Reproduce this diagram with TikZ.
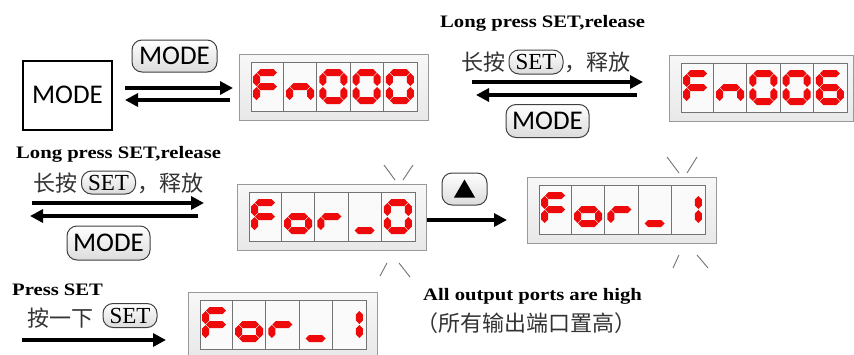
\documentclass[tikz,border=0pt]{standalone}
\usepackage{fontspec}
\setmainfont{Liberation Serif}
\newfontfamily\modefont{Carlito}
\newfontfamily\enbf{Liberation Serif}[FakeStretch=1.18]
\newfontfamily\cjk{Noto Sans CJK SC}
\usetikzlibrary{arrows.meta,calc}
\definecolor{lcdred}{HTML}{EE0A0A}
\tikzset{
 arr/.style={line width=3.4pt,-{Triangle[length=13pt,width=13pt]}},
 pill/.style={draw=black!75,line width=1pt,rounded corners=10pt,top color=white,bottom color=black!14,inner sep=0pt},
 modepill/.style={pill,minimum width=85pt,minimum height=32pt,font=\modefont\fontsize{27}{27}\selectfont},
 setpill/.style={pill,minimum width=54pt,minimum height=24pt,font=\fontsize{23}{23}\selectfont},
 lcdout/.style={draw=black!40,line width=1pt,top color=black!3,bottom color=black!9,minimum width=189pt,minimum height=66pt,inner sep=0pt,anchor=north west},
 lcdin/.style={draw=black!55,line width=1pt,fill=black!2,minimum width=166pt,minimum height=49pt,inner sep=0pt,anchor=north west},
 lcdline/.style={draw=black!55,line width=1pt},
 blink/.style={draw=black!55,line width=0.9pt},
 entext/.style={font=\enbf\bfseries\fontsize{17.5}{17.5}\selectfont,inner sep=0pt,anchor=base west},
 cjktext/.style={font=\cjk\fontsize{22}{22}\selectfont,text=black!80,inner sep=0pt,anchor=base west},
}
\newcommand\lcdh[3]{\fill[lcdred] (#1,#3) -- (#1+3.5,#3-3.5) -- (#2-3.5,#3-3.5) -- (#2,#3) -- (#2-3.5,#3+3.5) -- (#1+3.5,#3+3.5) -- cycle;}
\newcommand\lcdv[3]{\fill[lcdred] (#1,#2) -- (#1+3.5,#2+3.5) -- (#1+3.5,#3-3.5) -- (#1,#3) -- (#1-3.5,#3-3.5) -- (#1-3.5,#2+3.5) -- cycle;}
\newcommand\lcdsega{\lcdh{6.5}{26.5}{10.5}}
\newcommand\lcdsegb{\lcdv{27}{11}{24}}
\newcommand\lcdsegc{\lcdv{27}{25}{38}}
\newcommand\lcdsegd{\lcdh{6.5}{26.5}{38.5}}
\newcommand\lcdsege{\lcdv{6}{25}{38}}
\newcommand\lcdsegf{\lcdv{6}{11}{24}}
\newcommand\lcdsegg{\lcdh{6.5}{26.5}{24.5}}
\newcommand\lcd[5][]{%
 \node[lcdout,#1] (#2) at (#3,#4) {};
 \node[lcdin] (#2in) at ($(#2.north west)+(11.5,8)$) {};
 \foreach \kk in {1,...,4}{\draw[lcdline] ($(#2in.north west)+(\kk*33.2,0)$) -- ($(#2in.south west)+(\kk*33.2,0)$);}
 \foreach \dg [count=\ii from 0] in {#5}{%
   \begin{scope}[shift={($(#2in.north west)+(\ii*33.2,0)$)}]
     \foreach \sg in \dg {\csname lcdseg\sg\endcsname}
   \end{scope}}%
}
\begin{document}
\begin{tikzpicture}[x=1pt,y=-1pt]
\useasboundingbox (0,0) rectangle (854,354);
\fill[white] (0,0) rectangle (854,354);
\clip (0,0) rectangle (854,354);

% MODE box
\node[draw,line width=2pt,minimum width=89pt,minimum height=69pt,inner sep=0pt,font=\modefont\fontsize{27}{27}\selectfont] (modebox) at (67.5,95.3) {MODE};

% displays
\lcd{fn0}{239}{54}{{a,f,g,e},{c,e,g},{a,b,c,d,e,f},{a,b,c,d,e,f},{a,b,c,d,e,f}}
\lcd[minimum width=184pt]{fn6}{669}{55}{{a,f,g,e},{c,e,g},{a,b,c,d,e,f},{a,b,c,d,e,f},{a,f,g,e,d,c}}
\lcd{for0}{237}{184}{{a,f,g,e},{c,d,e,g},{e,g},{d},{a,b,c,d,e,f}}
\lcd{for1}{527}{177}{{a,f,g,e},{c,d,e,g},{e,g},{d},{b,c}}
\lcd{for1b}{188}{292}{{a,f,g,e},{c,d,e,g},{e,g},{d},{b,c}}

% buttons
\node[modepill] (m1) at (174.5,56) {MODE};
\node[modepill,minimum width=83pt,minimum height=33pt] (m2) at (547.5,121) {MODE};
\node[modepill,minimum width=83pt,minimum height=34pt] (m3) at (108.5,243) {MODE};
\node[setpill] (s1) at (536,62) {SET};
\node[setpill,minimum height=23pt] (s2) at (108.5,182.5) {SET};
\node[setpill] (s3) at (130,315.5) {SET};
\node[pill,minimum width=45pt,minimum height=32pt] (up) at (464.5,189) {};
\fill ($(up.center)+(0,-9.5)$) -- ($(up.center)+(10.5,8.5)$) -- ($(up.center)+(-10.5,8.5)$) -- cycle;

% texts
\node[entext] (e1) at (440,27.5) {Long press SET,release};
\node[entext] (e2) at (16,158.3) {Long press SET,release};
\node[entext] (e3) at (12,295) {Press SET};
\node[entext] (e4) at (423,300.5) {All output ports are high};
\node[cjktext,anchor=base east] (c1a) at ([xshift=-3pt]s1.west |- 0,70) {长按};
\node[cjktext] (c1b) at ([xshift=1pt]s1.east |- 0,70) {，释放};
\node[cjktext,anchor=base east] (c2a) at ([xshift=-3pt]s2.west |- 0,191.5) {长按};
\node[cjktext] (c2b) at ([xshift=1pt]s2.east |- 0,191.5) {，释放};
\node[cjktext,anchor=base east] (c3a) at ([xshift=-9pt]s3.west |- 0,326) {按一下};
\node[cjktext] (c4) at (416,331) {（所有输出端口置高）};

% arrow end points
\coordinate (a1s) at (125,88);  \coordinate (a1e) at (233,88);
\coordinate (a2s) at (230,100); \coordinate (a2e) at (125,100);
\coordinate (a3s) at (472,82);  \coordinate (a3e) at (643,82);
\coordinate (a4s) at (637,95);  \coordinate (a4e) at (476,95);
\coordinate (a5s) at (32,203);  \coordinate (a5e) at (204,203);
\coordinate (a6s) at (198,216); \coordinate (a6e) at (30,216);
\coordinate (a7s) at (for0.east |- 0,220); \coordinate (a7e) at (507,220);
\coordinate (a8s) at (22,340);  \coordinate (a8e) at (166,340);
\draw[arr] (a1s) -- (a1e);
\draw[arr] (a2s) -- (a2e);
\draw[arr] (a3s) -- (a3e);
\draw[arr] (a4s) -- (a4e);
\draw[arr] (a5s) -- (a5e);
\draw[arr] (a6s) -- (a6e);
\draw[arr] (a7s) -- (a7e);
\draw[arr] (a8s) -- (a8e);

% blink marks
\draw[blink] (384,165) -- (395,180);
\draw[blink] (413,165) -- (403,180);
\draw[blink] (387,263) -- (380,276);
\draw[blink] (399,263) -- (410,277);
\draw[blink] (667,157) -- (679,173);
\draw[blink] (697,157) -- (687,173);
\draw[blink] (679,255) -- (673,268);
\draw[blink] (697,255) -- (708,268);
\end{tikzpicture}
\end{document}
